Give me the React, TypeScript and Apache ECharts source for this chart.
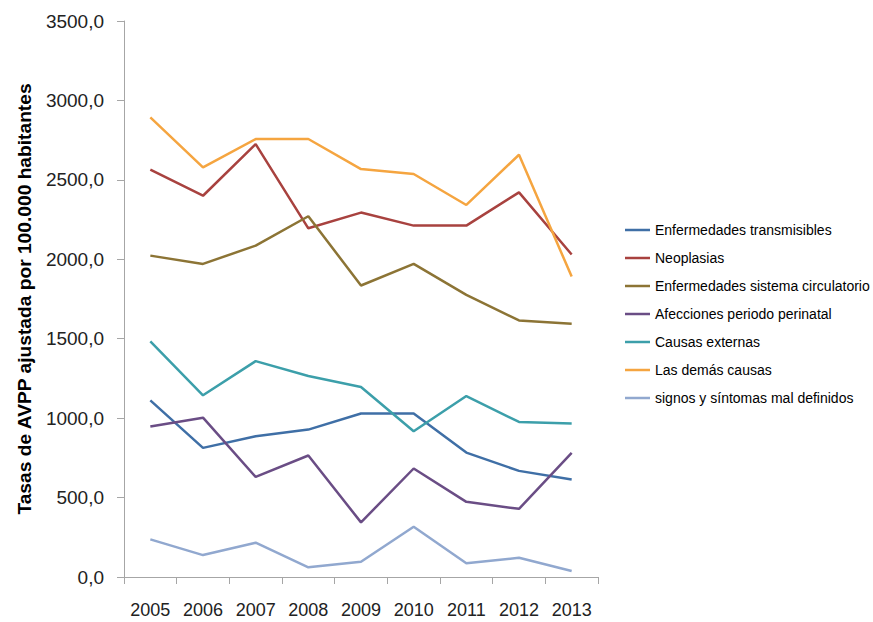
import React, { useEffect, useRef } from "react";
import * as echarts from "echarts";

const years = ["2005", "2006", "2007", "2008", "2009", "2010", "2011", "2012", "2013"];

const transmisibles = [1112, 813, 886, 928, 1029, 1029, 783, 668, 614];
const neoplasias = [2564, 2400, 2725, 2195, 2294, 2212, 2212, 2421, 2030];
const circulatorio = [2023, 1971, 2086, 2271, 1835, 1971, 1776, 1615, 1594];
const perinatal = [947, 1003, 630, 765, 344, 683, 473, 429, 781];
const externas = [1483, 1144, 1359, 1265, 1196, 917, 1139, 976, 966];
const demas = [2893, 2578, 2757, 2757, 2568, 2537, 2342, 2658, 1891];
const signos = [237, 138, 216, 61, 96, 316, 86, 121, 38];

const seriesNames = [
  "Enfermedades transmisibles",
  "Neoplasias",
  "Enfermedades sistema circulatorio",
  "Afecciones periodo perinatal",
  "Causas externas",
  "Las demás causas",
  "signos y síntomas mal definidos",
];
const seriesData = [transmisibles, neoplasias, circulatorio, perinatal, externas, demas, signos];
const colors = ["#3F6FA6", "#A8423F", "#8C7435", "#6A4D85", "#3C9FAA", "#F5A540", "#91A8CF"];

export default function App() {
  const ref = useRef<HTMLDivElement>(null);
  useEffect(() => {
    if (!ref.current) return;
    const chart = echarts.init(ref.current, null, { renderer: "svg" });
    const font = "Liberation Sans, Arial, sans-serif";
    chart.setOption({
      animation: false,
      backgroundColor: "#ffffff",
      grid: { left: 124, top: 21, right: 275, bottom: 45, containLabel: false },
      legend: {
        orient: "vertical",
        left: 620,
        top: 218,
        icon: "rect",
        itemWidth: 25,
        itemHeight: 2.5,
        itemGap: 14,
        textStyle: { fontFamily: font, fontSize: 14, color: "#000" },
        data: seriesNames,
      },
      xAxis: {
        type: "category",
        data: years,
        boundaryGap: true,
        axisLine: { lineStyle: { color: "#a6a6a6", width: 1 } },
        axisTick: { show: true, length: 7, interval: 0, lineStyle: { color: "#a6a6a6" } },
        axisLabel: { fontFamily: font, fontSize: 18, color: "#222", margin: 24, interval: 0 },
        splitLine: { show: false },
      },
      yAxis: {
        type: "value",
        min: 0,
        max: 3500,
        interval: 500,
        name: "Tasas de AVPP ajustada por 100.000 habitantes",
        nameLocation: "middle",
        nameGap: 90,
        nameTextStyle: { fontFamily: font, fontSize: 19.2, fontWeight: "bold", color: "#000" },
        axisLine: { show: true, lineStyle: { color: "#a6a6a6", width: 1 } },
        axisTick: { show: true, length: 7, lineStyle: { color: "#a6a6a6" } },
        axisLabel: {
          fontFamily: font,
          fontSize: 19,
          color: "#222",
          margin: 20,
          formatter: (v: number) => v.toFixed(1).replace(".", ","),
        },
        splitLine: { show: false },
      },
      series: seriesNames.map((name, i) => ({
        name,
        type: "line",
        data: seriesData[i],
        symbol: "none",
        lineStyle: { color: colors[i], width: 2.5 },
        itemStyle: { color: colors[i] },
      })),
    });
    return () => chart.dispose();
  }, []);
  return <div ref={ref} style={{ width: 873, height: 622, position: "absolute", left: 0, top: 0 }} />;
}
